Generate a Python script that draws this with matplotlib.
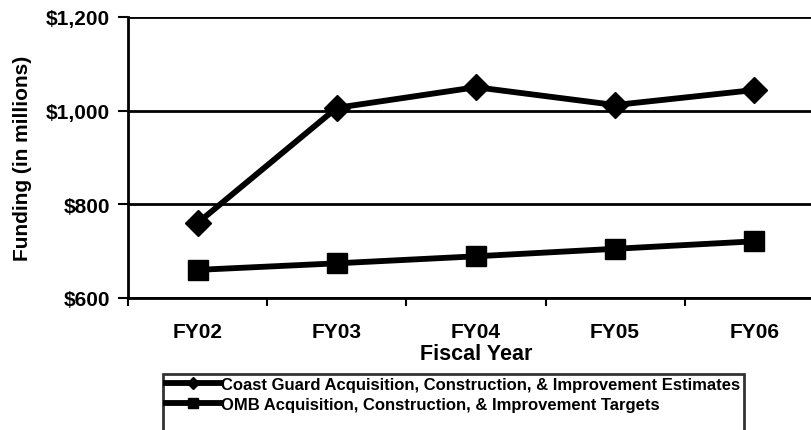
import numpy as np
import matplotlib
matplotlib.use("Agg")
import matplotlib.pyplot as plt
from matplotlib.lines import Line2D
from matplotlib.ticker import FuncFormatter, FixedLocator

# =========================================================
# Data
# =========================================================

years = ["FY02", "FY03", "FY04", "FY05", "FY06"]

coast_guard = [760, 1006, 1050, 1012, 1044]
omb_targets = [660, 674, 689, 705, 721]

cg_label = "Coast Guard Acquisition, Construction, & Improvement Estimates"
omb_label = "OMB Acquisition, Construction, & Improvement Targets"

# =========================================================
# Figure
# =========================================================

plt.rcParams["font.family"] = ["Liberation Sans", "DejaVu Sans"]
plt.rcParams["font.weight"] = "bold"

fig = plt.figure(figsize=(8.12, 4.31), dpi=100)
ax = fig.add_axes([0.1576, 0.3063, 0.857, 0.652])

x = np.arange(len(years))

ax.plot(x, coast_guard, color="black", lw=4.2, marker="D", markersize=13.5,
        label=cg_label)
ax.plot(x, omb_targets, color="black", lw=4.2, marker="s", markersize=15,
        label=omb_label)

ax.set_xlim(-0.5, len(years) - 0.5)
ax.set_ylim(600, 1200)

ax.set_yticks([600, 800, 1000, 1200])
ax.yaxis.set_major_formatter(FuncFormatter(lambda v, p: f"${v:,.0f}"))
ax.yaxis.grid(True, color="black", lw=2)
ax.set_axisbelow(True)

ax.set_xticks(x)
ax.set_xticklabels(years)
ax.xaxis.set_minor_locator(FixedLocator(np.arange(-0.5, len(years), 1.0)))
ax.tick_params(axis="x", which="major", length=0, pad=17, labelsize=15)
ax.tick_params(axis="x", which="minor", length=6, width=1.5, direction="out")
ax.tick_params(axis="y", length=7, width=1.5, pad=6, labelsize=15)

for side in ["top", "right"]:
    ax.spines[side].set_visible(False)
for side in ["left", "bottom"]:
    ax.spines[side].set_linewidth(2)

ax.set_xlabel("Fiscal Year", fontsize=15.5, fontweight="bold", labelpad=2)
ax.set_ylabel("Funding (in millions)", fontsize=15, fontweight="bold", labelpad=10)

# legend box runs off the bottom edge, as in the scanned original
handles, labels = ax.get_legend_handles_labels()
handles.append(Line2D([], [], color="none"))
labels.append(" ")

leg = fig.legend(handles, labels, loc="upper left", bbox_to_anchor=(0.2007, 0.13),
                 frameon=True, fancybox=False, edgecolor="black",
                 fontsize=12, handlelength=3.2, handletextpad=0.1,
                 labelspacing=0.3, borderpad=0.2, borderaxespad=0,
                 markerscale=0.45)
leg.get_frame().set_linewidth(2)

fig.savefig("out.png", dpi=100)
